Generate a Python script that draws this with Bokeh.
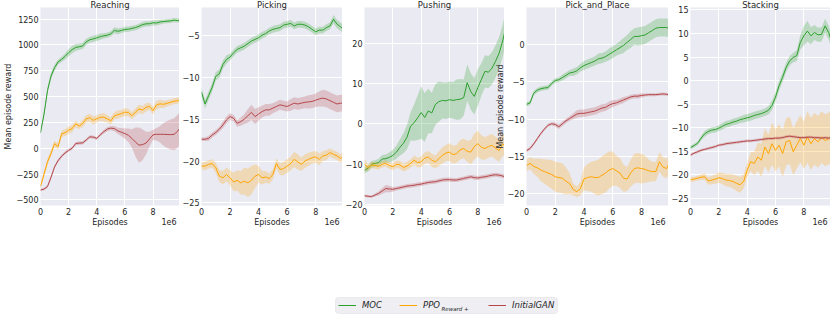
import numpy as np
from bokeh.plotting import figure
from bokeh.models import (Range1d, FixedTicker, Label, Legend, LegendItem, BoxAnnotation,
                          LinearAxis)
from bokeh.layouts import column, row
from bokeh.embed import file_html
from bokeh.resources import INLINE

# ---------------- data ----------------
episodes = [i * 0.25e6 for i in range(40)] + [9.88e6]

series_labels = ["MOC", "PPO", "InitialGAN"]

# Reaching
reach_moc = [150, 330, 560, 700, 780, 835, 860, 890, 925, 955, 975, 982, 990, 1030, 1050, 1058, 1068, 1080, 1088, 1094,
             1108, 1140, 1132, 1140, 1150, 1152, 1160, 1168, 1180, 1196, 1204, 1205, 1214, 1212, 1222, 1226, 1230, 1233, 1240, 1236, 1238]
reach_moc_sd = [15, 25, 30, 30, 30, 25, 25, 30, 35, 35, 35, 30, 30, 30, 30, 30, 30, 30, 25, 25,
                25, 30, 30, 25, 25, 25, 25, 25, 25, 25, 25, 25, 25, 25, 25, 20, 20, 20, 20, 20, 20]
reach_ppo = [-370, -250, -130, -50, 45, 15, 140, 150, 175, 190, 235, 215, 240, 285, 295, 270, 285, 300, 300, 285,
             265, 315, 325, 335, 350, 345, 315, 350, 380, 370, 395, 405, 365, 420, 430, 425, 435, 445, 455, 460, 468]
reach_ppo_sd = [20, 30, 30, 30, 30, 30, 30, 35, 35, 35, 30, 30, 35, 35, 40, 40, 35, 35, 40, 35,
                35, 35, 40, 35, 40, 35, 35, 35, 40, 40, 40, 35, 35, 40, 40, 35, 30, 30, 30, 30, 25]
reach_gan = [-405, -395, -370, -280, -180, -120, -77, -45, -20, 0, 45, 50, 52, 80, 110, 108, 95, 130, 160, 185,
             195, 190, 168, 155, 142, 125, 95, 60, 30, 35, 50, 90, 130, 135, 135, 135, 133, 132, 135, 165, 190]
reach_gan_sd = [12, 12, 15, 15, 15, 15, 15, 15, 15, 15, 15, 15, 15, 15, 15, 15, 15, 15, 18, 20,
                20, 25, 30, 40, 50, 65, 90, 140, 170, 150, 110, 70, 50, 60, 80, 110, 130, 145, 155, 160, 160]
reach_yticks = [-500, -250, 0, 250, 500, 750, 1000, 1250]
reach_ylim = (-554, 1362)

# Picking
pick_moc = [-11.8, -13.2, -12.2, -11.2, -9.9, -9.6, -8.5, -7.9, -7.6, -7.1, -6.7, -6.5, -6.3, -6.0, -5.7, -5.5, -5.3, -5.0, -4.8, -4.5,
            -4.3, -4.2, -4.1, -3.8, -3.7, -3.6, -3.9, -3.7, -3.7, -3.8, -4.0, -4.3, -4.6, -4.4, -4.4, -4.1, -3.9, -3.1, -3.7, -4.0, -4.2]
pick_moc_sd = [0.5, 0.5, 0.5, 0.5, 0.5, 0.5, 0.5, 0.5, 0.4, 0.4, 0.4, 0.4, 0.4, 0.4, 0.4, 0.4, 0.4, 0.4, 0.4, 0.4,
               0.4, 0.4, 0.4, 0.4, 0.4, 0.4, 0.4, 0.4, 0.4, 0.4, 0.4, 0.4, 0.4, 0.4, 0.4, 0.4, 0.4, 0.5, 0.5, 0.5, 0.5]
pick_ppo = [-20.6, -20.6, -20.4, -20.3, -20.8, -21.8, -22.0, -21.6, -22.0, -22.5, -22.3, -22.6, -22.4, -22.6, -22.3, -21.8, -21.6, -22.0, -21.9, -22.1,
            -21.6, -20.3, -21.0, -20.9, -20.6, -20.3, -19.8, -20.1, -20.4, -20.0, -19.8, -19.6, -19.5, -19.8, -19.4, -19.3, -19.0, -19.2, -19.4, -19.7, -19.5]
pick_ppo_sd = [0.4, 0.5, 0.5, 0.5, 0.6, 0.7, 0.8, 0.8, 0.9, 1.1, 1.2, 1.4, 1.6, 1.7, 1.7, 1.4, 1.0, 0.8, 0.7, 0.6,
               0.6, 0.6, 0.7, 0.8, 0.8, 0.8, 0.9, 0.9, 0.8, 0.8, 0.8, 0.7, 0.7, 0.7, 0.6, 0.6, 0.5, 0.5, 0.5, 0.5, 0.5]
pick_gan = [-17.4, -17.4, -17.3, -16.9, -16.6, -16.2, -15.7, -15.1, -14.7, -14.9, -15.5, -15.3, -15.0, -14.6, -14.2, -14.7, -14.4, -14.1, -13.9, -13.9,
            -13.7, -13.5, -13.3, -13.4, -13.5, -13.3, -13.1, -13.2, -13.1, -13.0, -12.95, -12.9, -12.75, -12.6, -12.5, -12.6, -12.8, -13.0, -13.2, -13.1, -13.1]
pick_gan_sd = [0.2, 0.2, 0.3, 0.3, 0.3, 0.3, 0.4, 0.4, 0.4, 0.4, 0.4, 0.5, 0.6, 0.8, 0.9, 0.9, 0.8, 0.7, 0.7, 0.7,
               0.6, 0.6, 0.6, 0.6, 0.6, 0.7, 0.7, 0.7, 0.7, 0.7, 0.8, 0.8, 0.8, 0.9, 1.0, 1.0, 1.0, 1.0, 1.0, 1.0, 1.0]
pick_yticks = [-25, -20, -15, -10, -5]
pick_ylim = (-25.3, -1.7)

# Pushing
push_moc = [-11.5, -11.0, -10.0, -9.8, -9.6, -8.7, -8.6, -8.3, -7.8, -7.0, -5.8, -4.8, -3.3, -0.6, 0.3, 1.5, 2.8, 1.6, 3.2, 2.7,
            4.8, 5.5, 5.8, 5.7, 6.0, 5.8, 6.0, 6.1, 6.5, 10.2, 8.0, 6.8, 9.0, 11.0, 13.0, 12.8, 13.8, 15.5, 17.5, 20.5, 22.5]
push_moc_sd = [0.8, 0.8, 0.8, 0.8, 1.0, 1.0, 1.0, 1.2, 1.4, 1.6, 2.0, 2.5, 3.0, 3.5, 4.5, 5.5, 6.5, 6.0, 5.5, 5.0,
               5.0, 5.0, 4.5, 4.5, 4.5, 4.5, 5.0, 5.0, 4.5, 4.5, 4.5, 4.5, 4.5, 4.0, 4.0, 4.0, 4.0, 4.0, 4.0, 4.0, 4.0]
push_ppo = [-10.0, -10.8, -10.2, -10.3, -10.5, -10.0, -9.8, -10.3, -10.6, -10.0, -10.1, -10.8, -10.4, -9.8, -9.0, -9.6, -9.4, -8.5, -8.2, -9.0,
            -9.4, -8.6, -7.8, -7.2, -7.0, -7.6, -7.4, -6.4, -6.1, -6.8, -7.0, -5.6, -4.9, -5.8, -6.1, -5.6, -5.3, -6.0, -6.6, -5.0, -5.3]
push_ppo_sd = [1.5, 0.8, 0.8, 0.8, 0.8, 0.8, 0.8, 0.8, 0.9, 0.9, 1.0, 1.0, 1.0, 1.0, 1.2, 1.2, 1.3, 1.4, 1.5, 1.6,
               1.6, 1.8, 2.0, 2.0, 2.2, 2.2, 2.2, 2.4, 2.4, 2.6, 3.0, 3.2, 3.2, 3.0, 2.8, 2.8, 2.8, 2.8, 2.8, 2.8, 2.8]
push_gan = [-17.8, -17.9, -18.0, -17.6, -17.2, -16.6, -16.0, -16.1, -16.2, -16.0, -15.8, -15.6, -15.4, -15.3, -15.2, -15.0, -14.9, -14.7, -14.5, -14.4,
            -14.3, -14.1, -13.9, -13.8, -13.8, -13.9, -13.9, -13.7, -13.5, -13.3, -13.1, -13.3, -13.4, -13.2, -13.1, -12.9, -12.7, -12.6, -12.7, -12.9, -13.1]
push_gan_sd = [0.3, 0.3, 0.3, 0.4, 0.5, 0.7, 0.9, 0.8, 0.6, 0.5, 0.5, 0.5, 0.5, 0.5, 0.5, 0.5, 0.5, 0.5, 0.5, 0.5,
               0.5, 0.5, 0.5, 0.5, 0.5, 0.5, 0.5, 0.5, 0.5, 0.5, 0.5, 0.5, 0.5, 0.5, 0.5, 0.5, 0.5, 0.5, 0.5, 0.5, 0.5]
push_yticks = [-20, -10, 0, 10, 20]
push_ylim = (-20.2, 28.8)

# Pick_and_Place
pp_moc = [-8.0, -7.8, -6.5, -6.1, -5.9, -5.8, -5.75, -5.2, -4.8, -4.7, -4.4, -4.1, -3.8, -3.7, -3.5, -3.1, -2.8, -2.6, -2.4, -2.2,
          -1.9, -1.8, -1.6, -1.3, -1.0, -0.7, -0.4, -0.1, 0.3, 0.7, 1.1, 1.1, 1.2, 1.3, 1.6, 1.9, 2.2, 2.3, 2.3, 2.3, 2.2]
pp_moc_sd = [0.3, 0.3, 0.3, 0.3, 0.3, 0.3, 0.3, 0.3, 0.3, 0.3, 0.4, 0.4, 0.4, 0.5, 0.5, 0.5, 0.6, 0.6, 0.6, 0.6,
             0.7, 0.7, 0.7, 0.8, 0.8, 0.8, 0.9, 1.0, 1.0, 1.1, 1.1, 1.2, 1.2, 1.2, 1.2, 1.2, 1.2, 1.2, 1.2, 1.2, 1.2]
pp_ppo = [-16.2, -15.9, -16.3, -16.5, -16.8, -17.0, -17.2, -17.4, -17.7, -17.8, -17.9, -18.3, -18.6, -19.4, -19.7, -19.3, -18.0, -17.8, -17.7, -17.8,
          -17.8, -17.5, -17.2, -16.8, -16.6, -16.9, -17.2, -17.9, -18.0, -17.2, -16.6, -16.5, -16.6, -16.7, -16.9, -17.0, -17.0, -15.7, -16.4, -16.6, -16.1]
pp_ppo_sd = [0.8, 0.8, 1.0, 1.2, 1.5, 1.6, 1.8, 1.9, 2.0, 2.0, 2.0, 1.8, 1.4, 0.8, 0.7, 0.9, 1.5, 1.8, 2.0, 2.2,
             2.4, 2.5, 2.6, 2.5, 2.3, 2.0, 2.0, 1.8, 1.6, 1.8, 2.0, 2.0, 2.0, 1.8, 1.5, 1.3, 1.3, 1.3, 1.3, 1.3, 1.3]
pp_gan = [-14.2, -13.9, -13.3, -12.6, -11.9, -11.3, -10.8, -10.6, -10.7, -11.0, -10.6, -10.2, -9.9, -9.6, -9.3, -9.2, -9.2, -9.1, -9.0, -8.9,
          -8.7, -8.5, -8.4, -8.1, -7.9, -7.8, -7.6, -7.4, -7.2, -7.0, -6.9, -6.9, -6.8, -6.75, -6.7, -6.7, -6.7, -6.65, -6.6, -6.65, -6.7]
pp_gan_sd = [0.2, 0.2, 0.2, 0.2, 0.2, 0.2, 0.2, 0.2, 0.3, 0.3, 0.3, 0.3, 0.3, 0.4, 0.5, 0.5, 0.5, 0.5, 0.5, 0.5,
             0.5, 0.5, 0.5, 0.5, 0.5, 0.4, 0.4, 0.4, 0.3, 0.3, 0.3, 0.3, 0.3, 0.2, 0.2, 0.2, 0.2, 0.2, 0.2, 0.2, 0.2]
pp_yticks = [-20, -15, -10, -5, 0]
pp_ylim = (-21.55, 4.98)

# Stacking
stack_moc = [-14.2, -13.8, -13.3, -12.2, -11.3, -10.8, -10.5, -10.4, -10.1, -9.7, -9.3, -9.1, -8.8, -8.6, -8.3, -8.1, -7.9, -7.7, -7.4, -7.2,
             -7.0, -6.7, -6.3, -5.3, -3.5, -1.1, 0.7, 2.8, 4.2, 4.9, 5.3, 8.1, 9.5, 10.5, 9.5, 10.2, 9.7, 9.8, 11.6, 10.2, 9.0]
stack_moc_sd = [0.4, 0.4, 0.4, 0.5, 0.6, 0.6, 0.6, 0.6, 0.6, 0.7, 0.7, 0.7, 0.7, 0.7, 0.7, 0.8, 0.8, 0.8, 0.8, 0.8,
                0.8, 0.8, 0.9, 1.0, 1.0, 1.0, 1.0, 1.0, 1.0, 1.0, 1.2, 1.5, 2.0, 2.2, 1.8, 1.6, 1.5, 1.5, 1.5, 1.5, 1.5]
stack_ppo = [-21.0, -20.9, -20.7, -20.5, -20.4, -21.3, -21.1, -20.9, -20.6, -20.8, -21.1, -21.2, -21.4, -21.8, -22.1, -21.4, -19.0, -17.2, -17.6, -16.2,
             -16.9, -14.1, -15.5, -13.4, -14.8, -13.7, -15.5, -13.0, -12.7, -15.1, -13.7, -12.3, -13.7, -12.0, -13.4, -12.3, -13.0, -12.0, -12.7, -12.3, -12.0]
stack_ppo_sd = [0.5, 0.5, 0.5, 0.6, 0.7, 0.8, 0.9, 1.0, 1.1, 1.2, 1.3, 1.4, 1.5, 1.6, 1.7, 1.5, 1.5, 2.0, 2.5, 3.0,
                3.5, 4.0, 4.0, 4.5, 4.5, 4.5, 5.0, 5.0, 5.0, 5.0, 5.0, 5.0, 5.0, 5.5, 5.5, 5.5, 5.5, 5.5, 5.5, 5.5, 5.5]
stack_gan = [-15.8, -15.4, -15.1, -14.8, -14.6, -14.4, -14.2, -14.0, -13.7, -13.6, -13.4, -13.3, -13.2, -13.1, -13.0, -12.9, -12.8, -12.8, -12.7, -12.6,
             -12.5, -12.4, -12.3, -12.3, -12.2, -12.2, -12.1, -11.9, -11.8, -11.9, -12.0, -12.1, -12.1, -12.0, -12.0, -12.1, -12.1, -12.2, -12.1, -12.2, -12.1]
stack_gan_sd = [0.3, 0.3, 0.3, 0.3, 0.3, 0.3, 0.3, 0.3, 0.3, 0.3, 0.3, 0.3, 0.3, 0.3, 0.3, 0.3, 0.3, 0.3, 0.3, 0.3,
                0.3, 0.3, 0.3, 0.3, 0.3, 0.3, 0.3, 0.3, 0.3, 0.3, 0.3, 0.3, 0.3, 0.3, 0.3, 0.3, 0.3, 0.3, 0.3, 0.3, 0.3]
stack_yticks = [-25, -20, -15, -10, -5, 0, 5, 10, 15]
stack_ylim = (-26.5, 15.5)

x_ticks = [0, 2000000, 4000000, 6000000, 8000000]
x_tick_labels = ["0", "2", "4", "6", "8"]
x_max = 9.88e6
x_axis_title = "Episodes"
x_scale_note = "1e6"

panels = [
    ("Reaching", [reach_moc, reach_ppo, reach_gan], [reach_moc_sd, reach_ppo_sd, reach_gan_sd], reach_yticks, reach_ylim),
    ("Picking", [pick_moc, pick_ppo, pick_gan], [pick_moc_sd, pick_ppo_sd, pick_gan_sd], pick_yticks, pick_ylim),
    ("Pushing", [push_moc, push_ppo, push_gan], [push_moc_sd, push_ppo_sd, push_gan_sd], push_yticks, push_ylim),
    ("Pick_and_Place", [pp_moc, pp_ppo, pp_gan], [pp_moc_sd, pp_ppo_sd, pp_gan_sd], pp_yticks, pp_ylim),
    ("Stacking", [stack_moc, stack_ppo, stack_gan], [stack_moc_sd, stack_ppo_sd, stack_gan_sd], stack_yticks, stack_ylim),
]

# ---------------- style ----------------
COLORS = ["#2ca02c", "#ffa500", "#b5474b"]
FONT = "DejaVu Sans"
TXT = "#262626"
BG = "#EAEAF2"
FRAME_W = [139, 141, 140, 142, 140]
BORDER_L = [37, 22, 22, 21, 21]
BORDER_R = [0, 0, 0, 0, 3]
FRAME_H = 198


def style_axis(ax):
    ax.axis_line_color = None
    ax.major_tick_line_color = None
    ax.minor_tick_line_color = None
    ax.major_tick_out = 0
    ax.major_tick_in = 0
    ax.major_label_text_font = FONT
    ax.major_label_text_font_size = "8px"
    ax.major_label_text_color = TXT
    ax.axis_label_text_font = FONT
    ax.axis_label_text_font_size = "8px"
    ax.axis_label_text_font_style = "normal"
    ax.axis_label_text_color = TXT
    ax.major_label_standoff = 2
    ax.axis_label_standoff = 1


figs = []
for i, (title, means, sds, yticks, ylim) in enumerate(panels):
    p = figure(frame_width=FRAME_W[i], frame_height=FRAME_H,
               x_range=Range1d(0, x_max), y_range=Range1d(*ylim),
               output_backend="svg", toolbar_location=None,
               min_border_left=BORDER_L[i], min_border_right=BORDER_R[i],
               min_border_top=0, min_border_bottom=0,
               background_fill_color=BG, border_fill_color="white",
               outline_line_color=None)
    p.title.text = title
    p.title.align = "center"
    p.title.text_font = FONT
    p.title.text_font_size = "8.5px"
    p.title.text_font_style = "normal"
    p.title.text_color = TXT
    try:
        p.title.standoff = -5
    except Exception:
        p.title.standoff = 0

    for m, sd, c in zip(means, sds, COLORS):
        m = np.array(m, dtype=float)
        sd = np.array(sd, dtype=float)
        p.varea(x=episodes, y1=m - sd, y2=m + sd, fill_color=c, fill_alpha=0.25)
        p.line(episodes, m, line_color=c, line_width=1)

    p.xaxis.ticker = FixedTicker(ticks=x_ticks)
    p.xaxis.major_label_overrides = {t: l for t, l in zip(x_ticks, x_tick_labels)}
    p.yaxis.ticker = FixedTicker(ticks=yticks)
    p.yaxis.major_label_overrides = {t: str(t).replace("-", "\u2212") for t in yticks}
    style_axis(p.xaxis[0])
    style_axis(p.yaxis[0])
    if i == 0:
        p.yaxis.axis_label = "Mean episode reward"

    # second line under the tick labels: "Episodes" centred, "1e6" flush right
    mid_pos = int(x_max / 2)
    note_pos = int(x_max - 10.5 / FRAME_W[i] * x_max)
    ax2 = LinearAxis(ticker=FixedTicker(ticks=[mid_pos, note_pos]),
                     major_label_overrides={mid_pos: x_axis_title, note_pos: x_scale_note})
    style_axis(ax2)
    ax2.major_label_standoff = 0
    p.add_layout(ax2, "below")

    p.grid.grid_line_color = "white"
    p.grid.grid_line_width = 1
    p.xgrid.ticker = FixedTicker(ticks=x_ticks)
    p.ygrid.ticker = FixedTicker(ticks=yticks)
    figs.append(p)

# stray y label of the 4th panel, drawn over the 3rd panel as in the original
figs[2].add_layout(Label(x=9.6e6, y=(push_ylim[0] + push_ylim[1]) / 2, text="Mean rpisode reward",
                         angle=np.pi / 2, text_align="center", text_baseline="middle",
                         text_font=FONT, text_font_size="8px", text_color=TXT))

# ---------------- legend ----------------
LW, LH = 830, 86
lf = figure(frame_width=LW, frame_height=LH, x_range=Range1d(0, LW), y_range=Range1d(0, LH),
            x_axis_type=None, y_axis_type=None, toolbar_location=None, output_backend="svg",
            min_border=0, outline_line_color=None, background_fill_color="white",
            border_fill_color="white")
lf.add_layout(BoxAnnotation(left=335, right=557, bottom=2, top=18, fill_color="#EEEEF3",
                            fill_alpha=1, line_color="#CCCCCC", line_width=1, border_radius=3))
legend_x = [338, 399, 488]
legend_src = [reach_moc, reach_ppo, reach_gan]
for lab, c, lx, src in zip(series_labels, COLORS, legend_x, legend_src):
    # renderer carrying the series (lies outside this strip's ranges) so the key is drawn
    r = lf.line(episodes, src, line_color=c, line_width=1)
    lg = Legend(items=[LegendItem(label=lab, renderers=[r])], location=(lx, 4),
                orientation="horizontal", glyph_width=18, glyph_height=12, label_height=12,
                label_width=10, label_standoff=6, padding=0, margin=0, spacing=0,
                border_line_color=None, background_fill_alpha=0,
                label_text_font=FONT, label_text_font_size="8.5px",
                label_text_font_style="italic", label_text_color=TXT)
    lf.add_layout(lg)
lf.add_layout(Label(x=441, y=7, text="Reward +", text_font=FONT, text_font_size="5.5px",
                    text_font_style="italic", text_color=TXT, text_baseline="middle"))

layout = column(row(*figs, spacing=0), lf, spacing=0)
open("out.html", "w").write(file_html(layout, INLINE))
